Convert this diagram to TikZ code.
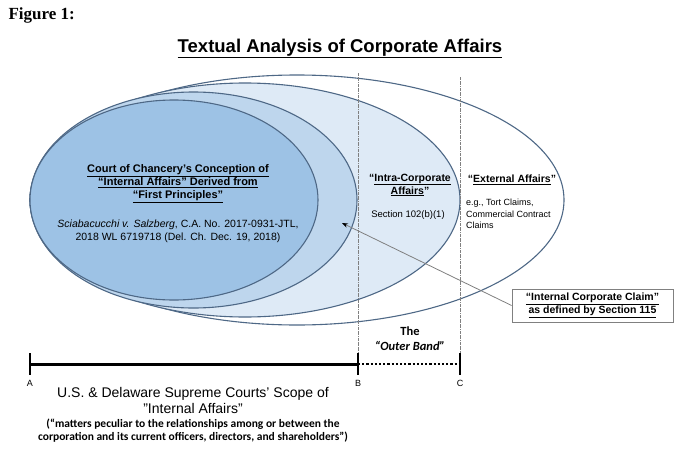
\documentclass[tikz,border=0pt]{standalone}
\usepackage{fontspec}
\setmainfont{Liberation Sans}
\newfontfamily\figfont{Liberation Serif}
\newfontfamily\calfont{Carlito}
\usetikzlibrary{arrows.meta}

\begin{document}
\begin{tikzpicture}[x=1pt,y=-1pt,
  rim/.style={draw=rimblue,line width=1.1pt},
  bandline/.style={gray,densely dashdotted,line width=0.7pt},
  endtick/.style={black,line width=1.6pt},
  boldtext/.style={align=center,font=\bfseries\fontsize{10.5}{13}\selectfont},
  plaintext/.style={align=center,font=\fontsize{10.5}{13}\selectfont},
  letter/.style={font=\fontsize{9}{11}\selectfont}]

\definecolor{rimblue}{RGB}{78,104,134};
\definecolor{deepblue}{RGB}{157,194,229};
\definecolor{midblue}{RGB}{190,214,237};
\definecolor{paleblue}{RGB}{222,234,246};

\useasboundingbox (0,0) rectangle (680,450);

\node[anchor=base west,font=\figfont\bfseries\fontsize{17}{20}\selectfont] (figlabel) at (5,19) {Figure 1:};

\node[anchor=base,font=\bfseries\fontsize{18.5}{22}\selectfont] (title) at (340,52) {\underline{Textual Analysis of Corporate Affairs}};

\draw[rim,fill=white] (297,200) ellipse [x radius=267, y radius=125];
\draw[rim,fill=paleblue] (245,200) ellipse [x radius=215, y radius=117];
\draw[rim,fill=midblue] (193.5,200) ellipse [x radius=163.5, y radius=108];
\draw[rim,fill=deepblue] (174,200) ellipse [x radius=144, y radius=100];

\coordinate (ptA) at (30,364);
\coordinate (ptB) at (358,364);
\coordinate (ptC) at (460,364);
\coordinate (topB) at (358,73);
\coordinate (topC) at (460,77);

\draw[bandline] (topB) -- (ptB);
\draw[bandline] (topC) -- (ptC);

\draw[black,line width=3pt] (ptA) -- (ptB);
\draw[black,line width=2.2pt,dotted] (ptB) -- (ptC);

\draw[endtick] (ptA) ++(0,-11) -- ++(0,22);
\draw[endtick] (ptB) ++(0,-11) -- ++(0,22);
\draw[endtick] (ptC) ++(0,-11) -- ++(0,22);

\node[letter] (labA) at (30,383) {A};
\node[letter] (labB) at (358,383) {B};
\node[letter] (labC) at (460,383) {C};

\node[boldtext,font=\bfseries\fontsize{11}{13}\selectfont] (chancery) at (178,184) {\underline{Court of Chancery’s Conception of}\\ \underline{“Internal Affairs” Derived from}\\ \underline{“First Principles”}};

\node[plaintext] (cite) at (178,231) {\textit{Sciabacucchi v. Salzberg}, C.A. No. 2017-0931-JTL,\\ 2018 WL 6719718 (Del. Ch. Dec. 19, 2018)};

\node[boldtext] (intra) at (410,185) {“\underline{Intra-Corporate}\\ \underline{Affairs}”};

\node[plaintext,font=\fontsize{9.5}{12}\selectfont] (section) at (408,215) {Section 102(b)(1)};

\node[boldtext] (external) at (512,180) {“\underline{External Affairs}”};

\node[anchor=north west,align=left,inner sep=0pt,font=\fontsize{9}{11.5}\selectfont] (examples) at (466,199) {e.g., Tort Claims,\\Commercial Contract\\Claims};

\node[boldtext,draw=gray,line width=0.8pt,minimum width=161,minimum height=33,inner sep=2pt] (claim) at (592.5,305.5) {\underline{“Internal Corporate Claim”}\\ \underline{as defined by Section 115}};

\coordinate (tip) at (342,223);
\draw[gray,line width=0.8pt,-{Stealth[black,length=6pt,width=4.5pt]}] (claim.west) -- (tip);

\node[align=center,font=\calfont\bfseries\fontsize{12.5}{15}\selectfont] (outer) at (410,339) {The\\ \textit{“Outer Band”}};

\node[align=center,font=\fontsize{14}{16}\selectfont] (scope) at (193,400) {U.S. \& Delaware Supreme Courts' Scope of\\ "Internal Affairs"};

\node[align=center,font=\calfont\bfseries\fontsize{11.5}{13}\selectfont] (peculiar) at (193,431) {(“matters peculiar to the relationships among or between the\\ corporation and its current officers, directors, and shareholders”)};

\end{tikzpicture}
\end{document}
